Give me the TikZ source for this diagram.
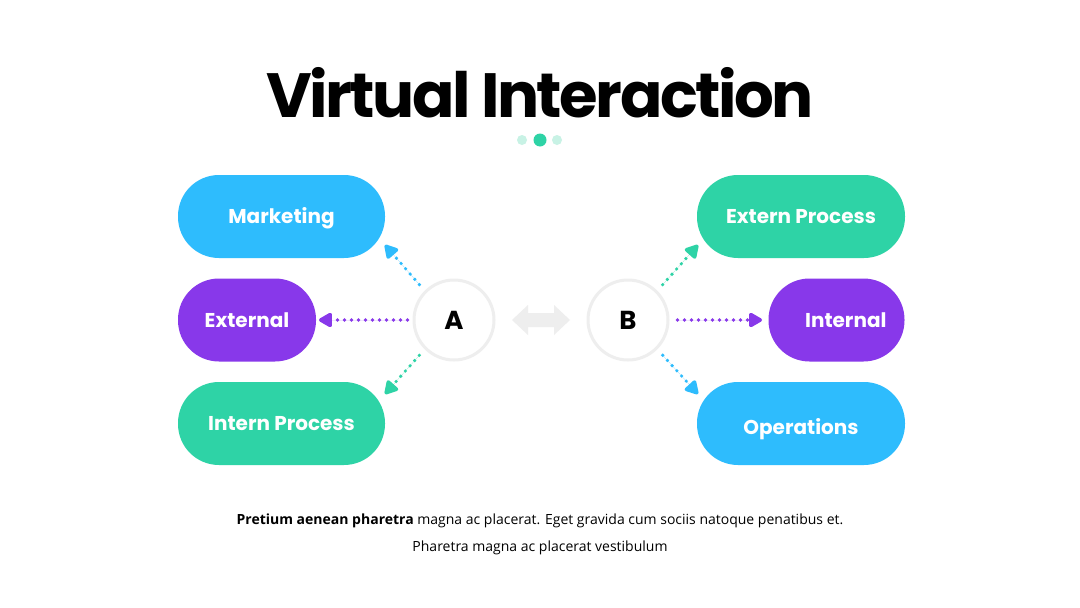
\documentclass[tikz,border=0pt]{standalone}
\usepackage{fontspec}
\setmainfont{Open Sans}
\newfontfamily\titlefont{Poppins}
\usetikzlibrary{arrows.meta}
\definecolor{cblue}{HTML}{2EBCFD}
\definecolor{cpurple}{HTML}{8838EA}
\definecolor{cgreen}{HTML}{2ED3A6}
\definecolor{clight}{HTML}{C8F2E5}
\definecolor{cgrey}{HTML}{EEEEEE}
\begin{document}
\begin{tikzpicture}[x=1pt,y=-1pt,
  pill/.style={rounded corners=41pt,inner sep=0pt,text=white,font=\titlefont\bfseries\fontsize{20}{22}\selectfont,minimum height=83pt,text height=14pt,text depth=0pt},
  circ/.style={circle,draw=cgrey,line width=3pt,fill=white,minimum size=80pt,inner sep=0pt,font=\titlefont\bfseries\fontsize{26}{30}\selectfont},
  dotarrow/.style={line width=3.6pt,dash pattern=on 0pt off 7pt,line cap=round,-{Triangle[length=15pt,width=16pt,round=false]}},
]
\useasboundingbox (0,0) rectangle (1080,608);
\fill[white] (0,0) rectangle (1080,608);
% title
\node[font=\titlefont\bfseries\fontsize{62.5}{70}\selectfont,text=black] (title) at (540,93) {\addfontfeature{LetterSpace=-4}Virtual Interaction};
\fill[clight] (522,140) circle (5);
\fill[cgreen] (540,140) circle (6.5);
\fill[clight] (557,140) circle (5);
% pills
\node[pill,fill=cblue,minimum width=207pt] (mkt) at (281.5,216.5) {Marketing};
\node[pill,fill=cpurple,minimum width=138pt] (ext) at (247,320) {External};
\node[pill,fill=cgreen,minimum width=207pt] (intp) at (281.5,423.5) {Intern Process};
\node[pill,fill=cgreen,minimum width=208pt] (extp) at (801,216.5) {Extern Process};
\node[pill,fill=cpurple,minimum width=136pt,text width=100pt,align=right] (int) at (836.5,320) {Internal};
\node[pill,fill=cblue,minimum width=208pt] (ops) at (801,423.5) {\raisebox{-4pt}{Operations}};
% circles
\node[circ] (A) at (454,320) {A};
\node[circ] (B) at (628,320) {B};
% double arrow between circles
\fill[cgrey] (512,320) -- (528,305) -- (528,313) -- (554,313) -- (554,305) -- (570,320) -- (554,335) -- (554,327) -- (528,327) -- (528,335) -- cycle;
% arrow tips
\coordinate (t1) at (385,245);
\coordinate (t2) at (319,320);
\coordinate (t3) at (385,394);
\coordinate (t4) at (698,245);
\coordinate (t5) at (762,320);
\coordinate (t6) at (698,394);
\draw[dotarrow,draw=cblue,fill=cblue,shorten <=8pt] (A.135) -- (t1);
\draw[dotarrow,draw=cpurple,fill=cpurple,shorten <=5pt] (A.west) -- (t2);
\draw[dotarrow,draw=cgreen,fill=cgreen,shorten <=8pt] (A.225) -- (t3);
\draw[dotarrow,draw=cgreen,fill=cgreen,shorten <=8pt] (B.45) -- (t4);
\draw[dotarrow,draw=cpurple,fill=cpurple,shorten <=8pt] (B.east) -- (t5);
\draw[dotarrow,draw=cblue,fill=cblue,shorten <=8pt] (B.315) -- (t6);
% body text
\node[font=\fontsize{14}{16}\selectfont] (body1) at (540,521) {\textbf{Pretium aenean pharetra} magna ac placerat. Eget gravida cum sociis natoque penatibus et.};
\node[font=\fontsize{14}{16}\selectfont] (body2) at (540,548) {Pharetra magna ac placerat vestibulum};
\end{tikzpicture}
\end{document}
